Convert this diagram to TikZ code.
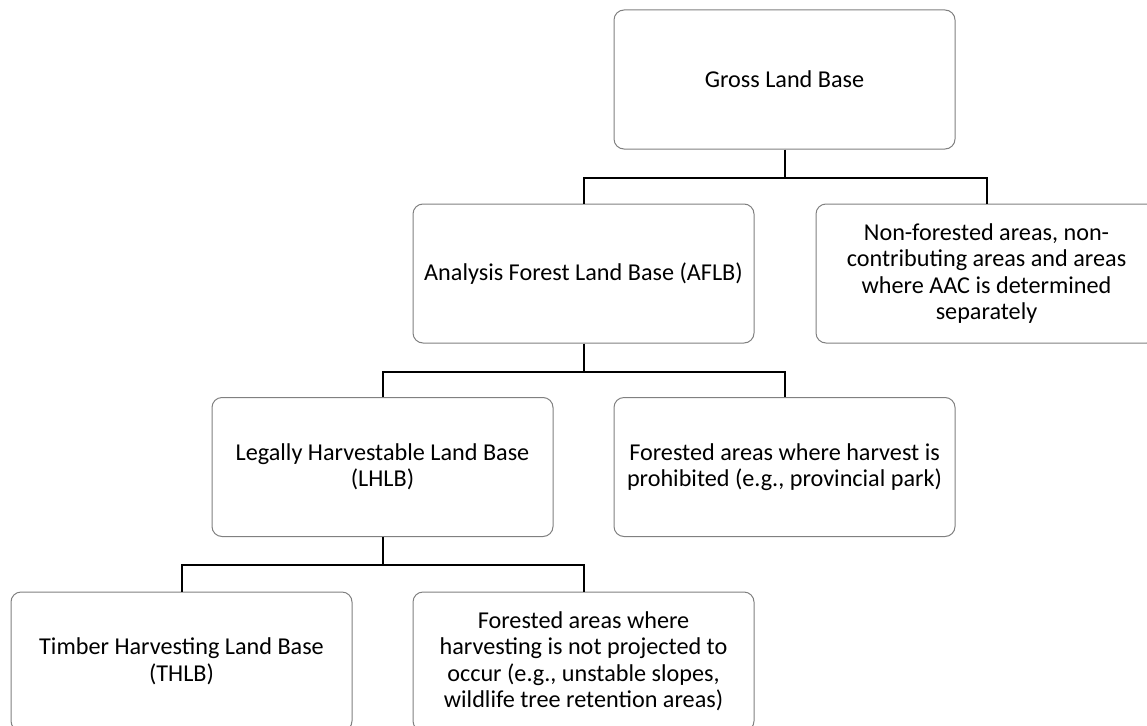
\documentclass[tikz,border=0pt]{standalone}
\usepackage{fontspec}
\setmainfont{Carlito}
\begin{document}
\begin{tikzpicture}[x=1pt,y=-1pt,
  box/.style={draw=black!50, line width=1pt, rounded corners=10pt, fill=white,
    minimum width=341pt, minimum height=139pt, align=center, inner sep=0pt,
    font=\fontsize{24.2}{26.5}\selectfont},
  conn/.style={draw=black, line width=2pt}]
\useasboundingbox (0,0) rectangle (1147,725);
\clip (0,0) rectangle (1147,725);
\fill[white] (0,0) rectangle (1147,725);
\node[box] (glb) at (784.5,79.5) {Gross Land Base};
\node[box] (aflb) at (583.5,273.5) {Analysis Forest Land Base (AFLB)};
\node[box] (nonf) at (986.5,273.5) {Non-forested areas, non-\\contributing areas and areas\\where AAC is determined\\separately};
\node[box] (lhlb) at (382.5,467) {Legally Harvestable Land Base\\(LHLB)};
\node[box] (proh) at (784.5,467) {Forested areas where harvest is\\prohibited (e.g., provincial park)};
\node[box] (thlb) at (181.5,661.5) {Timber Harvesting Land Base\\(THLB)};
\node[box] (nproj) at (583.5,661.5) {Forested areas where\\harvesting is not projected to\\occur (e.g., unstable slopes,\\wildlife tree retention areas)};
\draw[conn] (glb.south) -- ++(0,28) coordinate (j1);
\draw[conn] (aflb.north) |- (j1) -| (nonf.north);
\draw[conn] (aflb.south) -- ++(0,28) coordinate (j2);
\draw[conn] (lhlb.north) |- (j2) -| (proh.north);
\draw[conn] (lhlb.south) -- ++(0,28) coordinate (j3);
\draw[conn] (thlb.north) |- (j3) -| (nproj.north);
\end{tikzpicture}
\end{document}
